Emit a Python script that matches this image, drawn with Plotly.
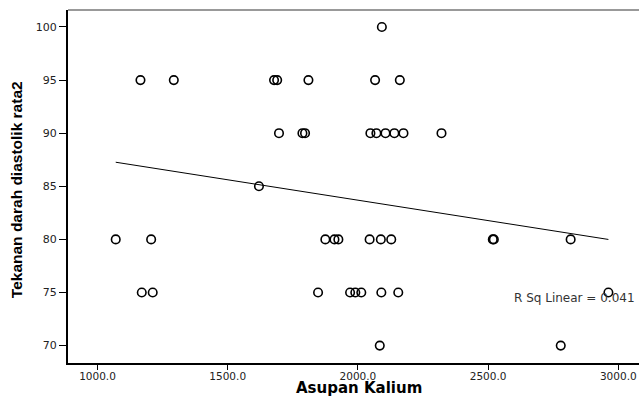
import numpy as np
import plotly.graph_objects as go

# Data
asupan_kalium = [
    2092,
    1165, 1293, 1678, 1690, 1810, 2066, 2161,
    1697, 1787, 1797, 2048, 2071, 2106, 2140, 2175, 2321,
    1620,
    1070, 1206, 1875, 1910, 1925, 2045, 2088, 2128, 2518, 2522, 2817,
    1170, 1212, 1847, 1970, 1990, 2013, 2090, 2155, 2962,
    2084, 2779,
]
tekanan_diastolik = [
    100,
    95, 95, 95, 95, 95, 95, 95,
    90, 90, 90, 90, 90, 90, 90, 90, 90,
    85,
    80, 80, 80, 80, 80, 80, 80, 80, 80, 80, 80,
    75, 75, 75, 75, 75, 75, 75, 75, 75,
    70, 70,
]
x_ticks = [1000, 1500, 2000, 2500, 3000]
x_tick_labels = ["1000.0", "1500.0", "2000.0", "2500.0", "3000.0"]
y_ticks = [70, 75, 80, 85, 90, 95, 100]
r_sq_label = "R Sq Linear = 0.041"

x = np.array(asupan_kalium, dtype=float)
y = np.array(tekanan_diastolik, dtype=float)
slope, intercept = np.polyfit(x, y, 1)
fit_x = np.array([x.min(), x.max()])
fit_y = slope * fit_x + intercept

fig = go.Figure()
fig.add_trace(go.Scatter(
    x=x, y=y, mode="markers",
    marker=dict(symbol="circle-open", size=8.5, color="black", line=dict(width=1.6, color="black")),
    showlegend=False, hoverinfo="skip", cliponaxis=False,
))
fig.add_trace(go.Scatter(
    x=fit_x, y=fit_y, mode="lines",
    line=dict(color="black", width=1),
    showlegend=False, hoverinfo="skip",
))

L, T, B = 68, 10, 34.3
PW, PH = 639 - L, 397 - T - B

font_tick = "DejaVu Sans, Verdana, sans-serif"
font_title = "DejaVu Sans, Verdana, sans-serif"
fig.update_layout(
    width=639, height=397,
    margin=dict(l=L, r=0, t=T, b=B, autoexpand=False),
    paper_bgcolor="white", plot_bgcolor="white",
    font=dict(family=font_tick, color="black", size=10),
    xaxis=dict(
        range=[886.7, 3079.5], tickvals=x_ticks, ticktext=x_tick_labels,
        showgrid=False, zeroline=False, showline=True, linecolor="black", linewidth=2,
        ticks="outside", ticklen=5, tickwidth=1.2, tickcolor="black", automargin=False,
        ticklabelstandoff=-3,
        tickfont=dict(size=10.5, family=font_tick, color="#222"),
    ),
    yaxis=dict(
        range=[68.36, 101.6], tickvals=y_ticks,
        showgrid=False, zeroline=False, showline=True, linecolor="black", linewidth=2,
        ticks="outside", ticklen=7, tickwidth=1.2, tickcolor="black", automargin=False,
        tickfont=dict(size=11, family=font_tick, color="#222"),
    ),
    shapes=[dict(type="line", xref="paper", yref="paper", x0=0, x1=1, y0=1, y1=1,
                 line=dict(color="#777", width=1.5))],
    annotations=[
        dict(text="<b>Asupan Kalium</b>", xref="paper", yref="paper",
             x=(359 - L) / PW, y=(397 - B - 387.5) / PH, xanchor="center", yanchor="middle",
             showarrow=False, font=dict(size=15, family=font_title, color="black")),
        dict(text="<b>Tekanan darah diastolik rata2</b>", xref="paper", yref="paper",
             x=(16 - L) / PW, y=(397 - B - 190) / PH, textangle=-90, xanchor="center",
             yanchor="middle", showarrow=False,
             font=dict(size=15.5, family="Liberation Sans Narrow, Arial Narrow, Liberation Sans, sans-serif", color="black")),
        dict(text=r_sq_label, xref="paper", yref="paper",
             x=(637 - L) / PW, y=(397 - B - 307) / PH, xanchor="right", showarrow=False,
             font=dict(size=12, family=font_tick, color="#333")),
    ],
)

fig.write_html("out.html", config={"displayModeBar": False},
               post_script="document.body.style.margin='0';document.body.style.overflow='hidden';")
